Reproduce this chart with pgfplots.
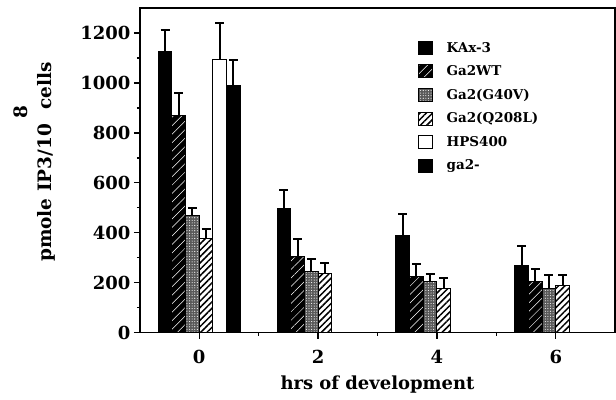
\documentclass[border=0pt]{standalone}
\usepackage{fontspec}
\setmainfont{DejaVu Serif}
\usepackage{pgfplots}
\pgfplotsset{compat=1.18}
\usetikzlibrary{patterns,patterns.meta}

\pgfplotsset{
  /pgfplots/ybar legend/.style={/pgfplots/legend image code/.code={%
    \draw[##1,/tikz/.cd] (0pt,-6.5pt) rectangle (14pt,6.5pt);}},
  errs/.style={error bars/.cd, y dir=plus, y explicit,
    error mark=-,
    error bar style={line width=2pt, black},
    error mark options={rotate=90, line width=2pt, mark size=4.5pt, black}},
}

\begin{document}
\begin{tikzpicture}
\begin{axis}[
  scale only axis, width=476pt, height=325pt,
  xmin=-1, xmax=7, ymin=0, ymax=1300,
  ybar=0pt, bar width=13.7pt,
  axis line style={line width=1.6pt},
  tick align=outside, tick pos=left,
  xtick={0,2,4,6}, minor xtick={1,3,5},
  ytick={0,200,...,1200}, minor ytick={100,300,...,1100},
  major tick length=6pt, minor tick length=3pt,
  every tick/.style={line width=1.4pt, black},
  /pgf/number format/assume math mode=true,
  /pgf/number format/1000 sep={},
  tick label style={font=\fontsize{18}{20}\selectfont\bfseries},
  xticklabel style={yshift=-8pt},
  xlabel={hrs of development},
  xlabel style={font=\fontsize{18}{20}\selectfont\bfseries, yshift=-5pt},
  ylabel={\hspace*{100pt}8\\pmole IP3/10\hspace{0.8em}cells},
  ylabel style={font=\fontsize{18.5}{24}\selectfont\bfseries, align=center,
    at={(axis description cs:-0.2206,0.526)}, anchor=center},
  legend style={at={(rel axis cs:0.584,0.902)}, anchor=north west, draw=none, fill=none,
    font=\fontsize{13.5}{16}\selectfont\bfseries, row sep=8pt, inner sep=0pt,
    nodes={inner xsep=14pt}},
  legend cell align=left,
]
\addplot[draw=black, line width=1pt, fill=black, errs] coordinates {
  (0,1125) +- (0,85) (2,495) +- (0,75) (4,390) +- (0,85) (6,270) +- (0,75)};
\addplot[draw=black, line width=1pt, fill=black,
  postaction={pattern={Lines[angle=45,distance=6pt,line width=0.5pt]}, pattern color=white}, errs] coordinates {
  (0,870) +- (0,90) (2,305) +- (0,70) (4,225) +- (0,50) (6,205) +- (0,50)};
\addplot[draw=black, line width=1pt, fill=black!65,
  postaction={pattern={Dots[distance=2.6pt,radius=0.55pt]}, pattern color=white}, errs] coordinates {
  (0,470) +- (0,30) (2,245) +- (0,50) (4,205) +- (0,30) (6,175) +- (0,55)};
\addplot[draw=black, line width=1pt, fill=white,
  postaction={pattern={Lines[angle=45,distance=4.5pt,line width=1.5pt]}, pattern color=black}, errs] coordinates {
  (0,375) +- (0,40) (2,235) +- (0,45) (4,175) +- (0,45) (6,190) +- (0,40)};
\addplot[draw=black, line width=1pt, fill=white, errs] coordinates {
  (0,1095) +- (0,145)};
\addplot[draw=black, line width=1pt, fill=black, errs] coordinates {
  (0,990) +- (0,100)};
\legend{KAx-3, Ga2WT, Ga2(G40V), Ga2(Q208L), HPS400, ga2-}
\end{axis}
\path[use as bounding box] (-140pt,-67pt) rectangle (476pt,333pt);
\end{tikzpicture}
\end{document}
